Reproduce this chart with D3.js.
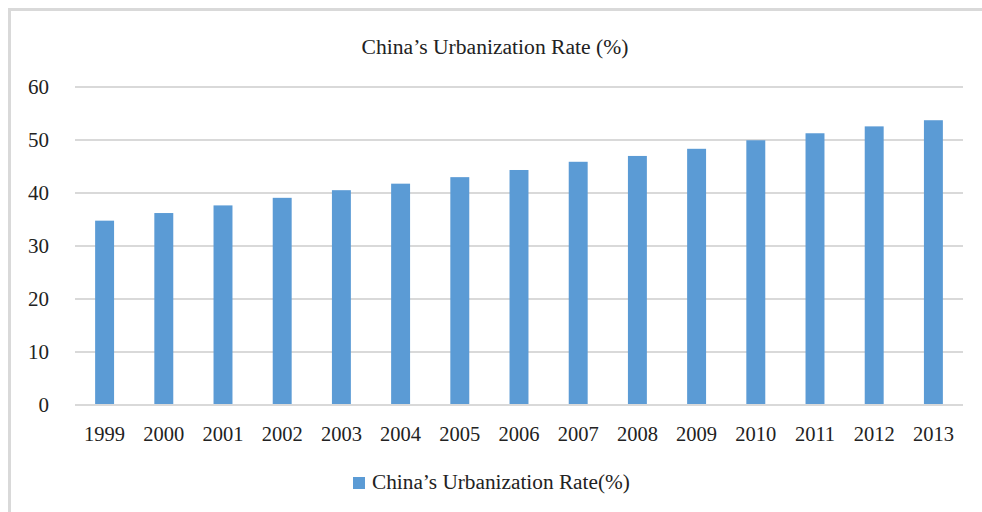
<!DOCTYPE html>
<html><head><meta charset="utf-8">
<script src="https://cdn.jsdelivr.net/npm/d3@7"></script>
<style>body{margin:0;background:#fff}svg{display:block}</style>
</head><body>
<svg id="c" width="982" height="512"></svg>
<script>
const years = ["1999","2000","2001","2002","2003","2004","2005","2006","2007","2008","2009","2010","2011","2012","2013"];
const rates = [34.78,36.22,37.66,39.09,40.53,41.76,42.99,44.34,45.89,46.99,48.34,49.95,51.27,52.57,53.73];
const yTicks = [0,10,20,30,40,50,60];
const title = "China\u2019s Urbanization Rate (%)";
const seriesName = "China\u2019s Urbanization Rate(%)";

(function(){
const svg = d3.select("#c");
const font = "'Liberation Serif','Times New Roman',serif";
const pl = 75, pr = 963, pt = 87, pb = 405;

svg.append("path").attr("d","M9.5,512 V9.5 H982").attr("fill","none").attr("stroke","#d9d9d9").attr("stroke-width",3);

const x = d3.scaleBand().domain(years).range([pl,pr]).paddingInner(0.68).paddingOuter(0.34);
const y = d3.scaleLinear().domain([0,60]).range([pb,pt]);

const g = svg.append("g");
g.selectAll("line.grid").data(yTicks).join("line").attr("class","grid")
  .attr("x1",pl).attr("x2",pr).attr("y1",d=>y(d)).attr("y2",d=>y(d))
  .attr("stroke","#d9d9d9").attr("stroke-width",2);

g.selectAll("rect.bar").data(rates).join("rect").attr("class","bar")
  .attr("x",(d,i)=>x(years[i])).attr("width",x.bandwidth())
  .attr("y",d=>y(d)).attr("height",d=>y(0)-y(d)).attr("fill","#5b9bd5");

g.append("line").attr("x1",pl).attr("x2",pr).attr("y1",y(0)).attr("y2",y(0)).attr("stroke","#d9d9d9").attr("stroke-width",2);

const yAxis = d3.axisLeft(y).tickValues(yTicks).tickSize(0).tickPadding(26);
const ya = svg.append("g").attr("transform",`translate(${pl},0)`).call(yAxis);
ya.select(".domain").remove();
ya.selectAll("text").attr("font-family",font).attr("font-size",21).attr("fill","#222");

const xAxis = d3.axisBottom(x).tickSize(0).tickPadding(21);
const xa = svg.append("g").attr("transform",`translate(0,${pb})`).call(xAxis);
xa.select(".domain").remove();
xa.selectAll("text").attr("font-family",font).attr("font-size",20.5).attr("fill","#222");

svg.append("text").attr("x",495).attr("y",54).attr("text-anchor","middle")
  .attr("font-family",font).attr("font-size",21.6).attr("fill","#222").text(title);

const lg = svg.append("g");
lg.append("rect").attr("x",353).attr("y",477).attr("width",12).attr("height",12).attr("fill","#5b9bd5");
lg.append("text").attr("x",372).attr("y",489).attr("font-family",font).attr("font-size",21.3).attr("fill","#222").text(seriesName);
})();
</script>
</body></html>
